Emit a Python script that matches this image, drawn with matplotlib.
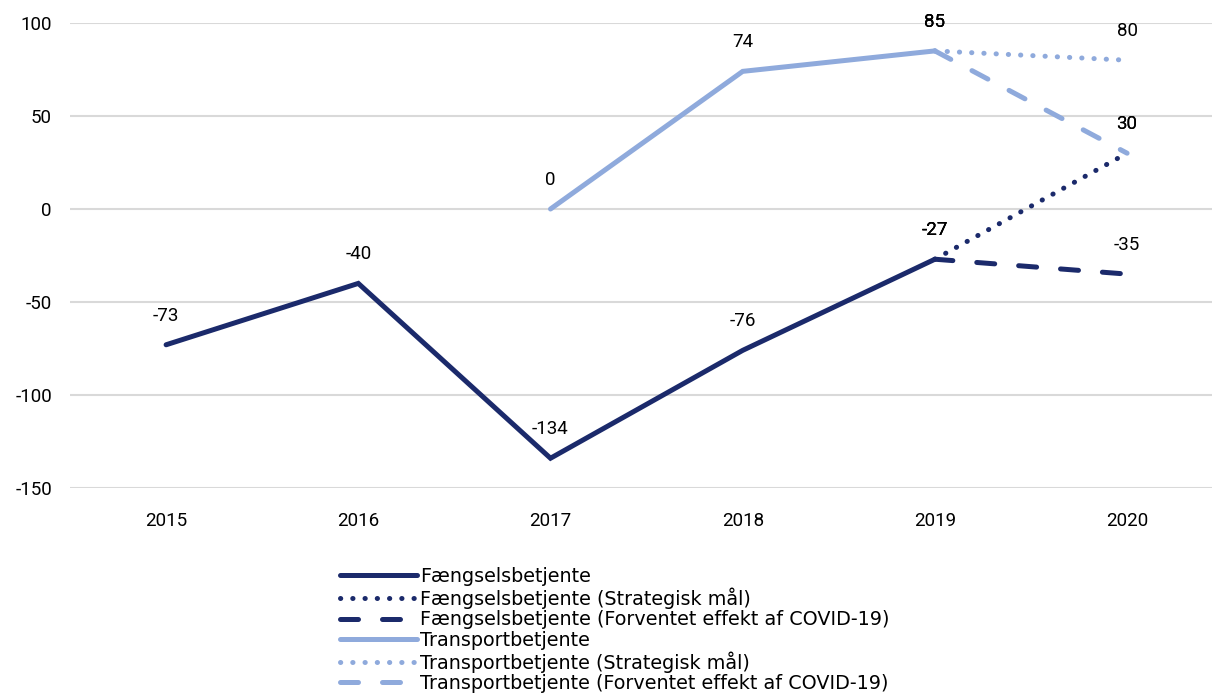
import numpy as np
import matplotlib
matplotlib.use("Agg")
import matplotlib.pyplot as plt

plt.rcParams["axes.unicode_minus"] = False

nan = np.nan
years = ["2015", "2016", "2017", "2018", "2019", "2020"]
faengsel = [-73, -40, -134, -76, -27, nan]
faengsel_strat = [nan, nan, nan, nan, -27, 30]
faengsel_covid = [nan, nan, nan, nan, -27, -35]
transport = [nan, nan, 0, 74, 85, nan]
transport_strat = [nan, nan, nan, nan, 85, 80]
transport_covid = [nan, nan, nan, nan, 85, 30]
y_ticks = [100, 50, 0, -50, -100, -150]

labels = [
    "Fængselsbetjente",
    "Fængselsbetjente (Strategisk mål)",
    "Fængselsbetjente (Forventet effekt af COVID-19)",
    "Transportbetjente",
    "Transportbetjente (Strategisk mål)",
    "Transportbetjente (Forventet effekt af COVID-19)",
]

dark = "#1B2A6B"
light = "#8FAADC"

W, H = 1212, 693
fig = plt.figure(figsize=(W / 100, H / 100), dpi=100)
left, right = 70, 1212
top, bottom = 23, 488
ax = fig.add_axes([left / W, 1 - bottom / H, (right - left) / W, (bottom - top) / H])

spacing = 192.2
ax.set_xlim(-0.5, -0.5 + (right - left) / spacing)
ax.set_ylim(-150, 100)

x = np.arange(len(years))
lw = 3.6
styles = [
    (faengsel, dark, "solid"),
    (faengsel_strat, dark, "dot"),
    (faengsel_covid, dark, "dash"),
    (transport, light, "solid"),
    (transport_strat, light, "dot"),
    (transport_covid, light, "dash"),
]
num_font = "Roboto"
for (vals, col, st), lab in zip(styles, labels):
    kw = dict(color=col, lw=lw, solid_capstyle="round", dash_capstyle="round",
              solid_joinstyle="miter", label=lab, zorder=3)
    if st == "dot":
        kw["dashes"] = (0.05, 2.4)
    elif st == "dash":
        kw["dashes"] = (3.6, 4.8)
    ax.plot(x, vals, **kw)
    for xi, v in zip(x, vals):
        if not np.isnan(v):
            ax.annotate(f"{v:g}", (xi, v), xytext=(0, 21), textcoords="offset points",
                        ha="center", va="center", fontsize=13.5, family=num_font,
                        color="#000000", zorder=4)

ax.set_yticks(y_ticks)
ax.set_xticks(x)
ax.set_xticklabels(years)
ax.tick_params(axis="both", length=0, labelsize=13.5, colors="#000000")
ax.tick_params(axis="y", pad=13)
ax.tick_params(axis="x", pad=17)
for t in ax.get_xticklabels() + ax.get_yticklabels():
    t.set_family(num_font)
ax.grid(axis="y", color="#D9D9D9", lw=1.5, zorder=0)
for s in ax.spines.values():
    s.set_visible(False)

handles, labs = ax.get_legend_handles_labels()
leg = fig.legend(handles, labs, loc="upper left",
                 bbox_to_anchor=(340 / W, 1 - 567 / H), frameon=False,
                 prop={"family": "DejaVu Sans", "size": 13.8}, handlelength=4.0,
                 handletextpad=0.2, labelspacing=0.075, borderpad=0, borderaxespad=0)

fig.savefig("out.png", dpi=100)
